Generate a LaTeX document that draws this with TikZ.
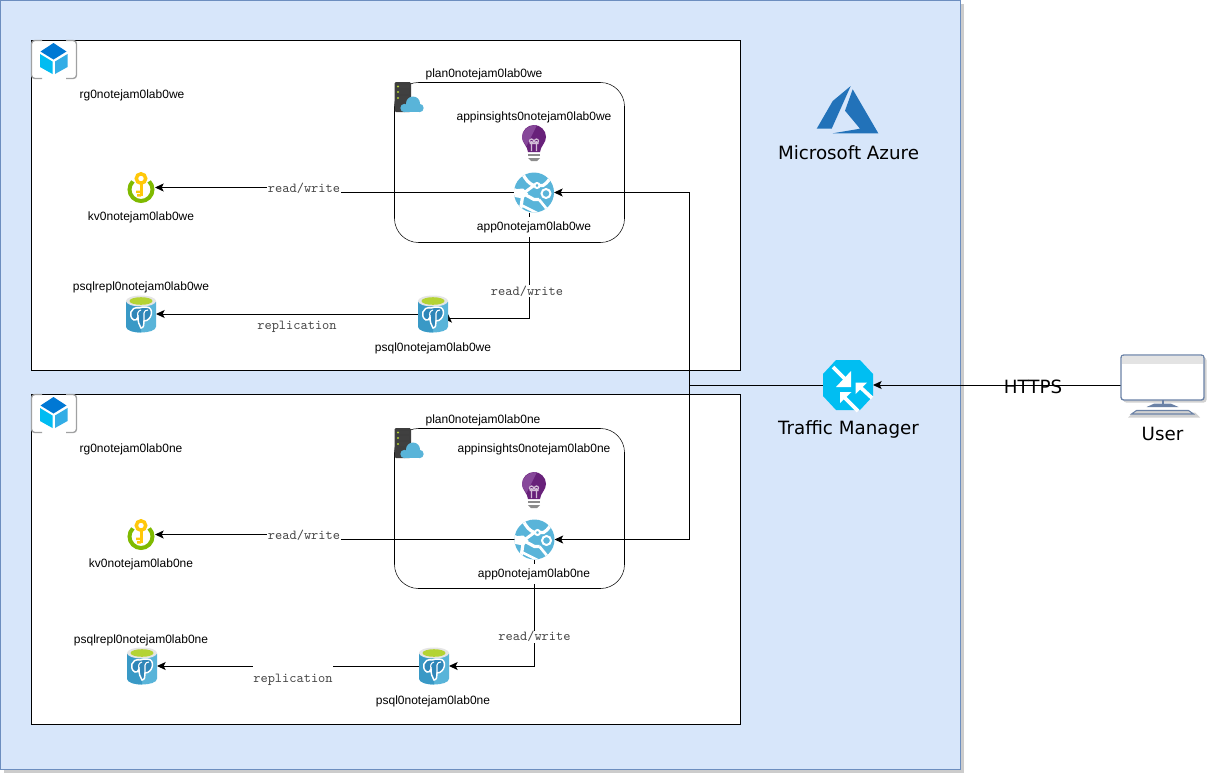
\documentclass[tikz,border=0pt]{standalone}
\usepackage{fontspec}
\setmainfont{Liberation Sans}
\newfontfamily\azurefont{DejaVu Sans}
\usetikzlibrary{arrows.meta,shadows}

\definecolor{azurefill}{HTML}{D7E6FA}
\definecolor{azureedge}{HTML}{6C8EBF}
\definecolor{azurelogo}{HTML}{2272B9}
\definecolor{trafficblue}{HTML}{00BEF2}
\definecolor{cubetop}{HTML}{0078D4}
\definecolor{cubeleft}{HTML}{00BCF2}
\definecolor{cuberight}{HTML}{32ADE6}
\definecolor{framegray}{HTML}{A0A1A2}
\definecolor{svcblue}{HTML}{59B4D9}
\definecolor{svcdark}{HTML}{3999C6}
\definecolor{pgblue}{HTML}{2F86B8}
\definecolor{keygreen}{HTML}{7FBA00}
\definecolor{keyyellow}{HTML}{FFC80A}
\definecolor{bulbdark}{HTML}{68217A}
\definecolor{bulblight}{HTML}{87489A}
\definecolor{rackdark}{HTML}{3E3E3E}
\definecolor{limegreen}{HTML}{B4D334}
\definecolor{screenedge}{HTML}{6B82A6}

\tikzstyle{azurebox} = [rectangle, minimum width=720pt, minimum height=576.75pt, draw=azureedge, fill=azurefill, drop shadow={shadow xshift=3pt, shadow yshift=-3pt, opacity=0.2, fill=black}]
\tikzstyle{rgbox} = [rectangle, minimum width=531.75pt, minimum height=247.5pt, draw=black, fill=white]
\tikzstyle{planbox} = [rectangle, rounded corners=18pt, minimum width=172.5pt, minimum height=120pt, draw=black]
\tikzstyle{iconnode} = [inner sep=0pt, outer sep=0pt]
\tikzstyle{arrow} = [line width=0.75pt,-{Stealth[length=6.5pt,width=6pt,inset=1.5pt]}]
\tikzstyle{textlabel} = [font=\fontsize{9}{10}\selectfont, inner sep=1pt, yshift=-0.75pt]
\tikzstyle{applabel} = [textlabel, fill=white, minimum height=15pt]
\tikzstyle{edgelabel} = [font=\ttfamily\fontsize{10.3}{11}\selectfont, text=black!72, fill=white, inner sep=0.5pt]
\tikzstyle{bigtext} = [font=\azurefont\fontsize{13.7}{16}\selectfont, inner sep=0pt]

\tikzset{
	rgicon/.pic={
		\draw[framegray, line width=1pt, rounded corners=2.5pt] (-12,-19.5) -- (-22.5,-19.5) -- (-22.5,18.5) -- (-12,18.5);
		\draw[framegray, line width=1pt, rounded corners=2.5pt] (12,-19.5) -- (22.5,-19.5) -- (22.5,18.5) -- (12,18.5);
		\fill[cubetop] (-0.5,-17) -- (12.5,-8.5) -- (-0.5,-0.5) -- (-13.5,-8.5) -- cycle;
		\fill[cubeleft] (-14,-6) -- (-1.5,1.5) -- (-1.5,14) -- (-14,7) -- cycle;
		\fill[cuberight] (1,1.5) -- (13.5,-6) -- (13.5,7) -- (1,14) -- cycle;
	},
	planicon/.pic={
		\fill[rackdark, rounded corners=1pt] (-14.5,-15) rectangle (2,15);
		\foreach \y in {-10.5,-5,1}{
			\fill[black!75] (-10,\y-1.8) rectangle (0,\y+1.8);
			\fill[limegreen] (-11,\y) circle (1.2);
		}
		\fill[svcblue] (-4.5,11) circle (4.2) (4,6.5) circle (7) (10.5,11) circle (4.2);
		\fill[svcblue] (-4.5,9) rectangle (10.5,15.2);
	},
	bulbicon/.pic={
		\fill[bulbdark] (-12,-6) arc[start angle=180, end angle=360, radius=12] .. controls (12,0) and (6.5,3) .. (6,9) -- (-6,9) .. controls (-6.5,3) and (-12,0) .. (-12,-6) -- cycle;
		\fill[bulblight] (3,-18) .. controls (-6,-18) and (-12,-12) .. (-12,-6) .. controls (-12,-2) and (-9,0) .. (-7.5,3) -- cycle;
		\draw[white!70!bulbdark, line width=0.9pt] (-2.5,8) -- (-2.5,-2) (2.5,8) -- (2.5,-2) (-2.5,-2) circle (2) (2.5,-2) circle (2) (-4.5,0.5) -- (4.5,0.5);
		\fill[black!45] (-6,10.5) rectangle (6,13);
		\fill[black!45] (-6,15) -- (6,15) -- (3,18) -- (-3,18) -- cycle;
	},
	appicon/.pic={
		\fill[svcblue] (0,0) circle (20);
		\begin{scope}
			\clip (0,0) circle (20);
			\draw[white, line width=2.4pt] (-12,-20) .. controls (-8,-12) and (-5,-9) .. (0,-7);
			\draw[white, line width=2.2pt] (0,-7) -- (-11,1) -- (-22,-4);
			\draw[white, line width=2.4pt] (-11,1) .. controls (-12,8) and (-13,14) .. (-14,22);
			\draw[white, line width=2.4pt] (-11,1) -- (0,7) -- (5,7);
			\draw[white, line width=2.4pt] (0,-7) -- (9,-7) .. controls (14,-10) and (16,-14) .. (17,-17);
			\draw[white, line width=2pt] (5,7) -- (14,18);
			\draw[white, line width=2pt] (-14,12) -- (6,22);
			\fill[white] (-22,-3) -- (-11,-4) -- (-6,1) -- (-11,6) -- (-22,4) -- cycle;
		\end{scope}
		\draw[white, line width=1.5pt, fill=svcblue] (12,1) circle (4.5);
		\draw[white, line width=1.5pt, fill=svcblue] (3,-7) circle (2.5);
	},
	kvicon/.pic={
		\draw[keygreen, line width=3pt] (0,2) ++(-45:11.5) arc[start angle=-45, end angle=225, radius=11.5];
		\fill[keyyellow] (-1.5,-6) rectangle (1.5,8);
		\fill[keyyellow] (-5,3) rectangle (0,5.5) (-4,6.5) rectangle (0,9);
		\draw[keyyellow, line width=2.6pt] (0,-9) circle (4.7);
	},
	psqlicon/.pic={
		\fill[svcblue] (-15,-12.5) -- (-15,12.5) .. controls (-15,20.5) and (15,20.5) .. (15,12.5) -- (15,-12.5) -- cycle;
		\fill[svcdark] (-15,-12.5) -- (-15,12.5) .. controls (-15,16) and (-8,18.5) .. (0,18.5) -- (0,-12.5) -- cycle;
		\fill[white!90!black] (0,-13) ellipse (15 and 5.5);
		\fill[limegreen] (0,-13) ellipse (11.5 and 3.8);
		\draw[white, line width=1.1pt, fill=pgblue] (-2,-6) .. controls (-11,-8) and (-13,3) .. (-7,6) .. controls (-5,7) and (-4,5) .. (-3,3) .. controls (-3,8) and (-2,11) .. (0,14) .. controls (3,14) and (3,10) .. (3,7) .. controls (11,7) and (14,-7) .. (5,-7) .. controls (3,-7) and (0,-7) .. (-2,-6) -- cycle;
		\draw[white, line width=0.8pt] (-3,3) .. controls (-4,-1) and (-3,-3) .. (0,-4) (3,7) -- (3,-1) .. controls (3,-3) and (5,-4) .. (7,-4);
	},
	tmicon/.pic={
		\fill[trafficblue] (-12,-25) -- (12,-25) -- (25,-11) -- (25,11) -- (12,25) -- (-12,25) -- (-25,11) -- (-25,-11) -- cycle;
		\draw[white, line width=2.8pt] (-15,-18) -- (0,-3);
		\fill[white] (3,2) -- (3,-14) -- (-12,2) -- cycle;
		\draw[white, line width=2.8pt] (10,0) -- (24,13);
		\fill[white] (7.5,-2.5) -- (19,-2.5) -- (7.5,9) -- cycle;
		\draw[white, line width=2.8pt] (-6,10) -- (10,26);
		\fill[white] (-8,7) -- (3.5,7) -- (-8,18) -- cycle;
	},
	usericon/.pic={
		\fill[black, opacity=0.18, rounded corners=2pt, shift={(2.5,2.5)}] (-41.5,-30) rectangle (41.5,15);
		\fill[black, opacity=0.18, shift={(1.5,2.5)}] (-31,25) -- (31,25) -- (36,30) -- (-36,30) -- cycle;
		\draw[screenedge, line width=1pt, fill=white, rounded corners=2pt] (-41.5,-30) rectangle (41.5,15);
		\fill[black!11] (-40.5,-29.3) rectangle (40.5,-21.5);
		\fill[screenedge] (-1,15) rectangle (1,18.5);
		\fill[screenedge] (-8,18.5) -- (8,18.5) -- (16,22) -- (-16,22) -- cycle;
		\draw[screenedge, line width=0.8pt, fill=black!18] (-26,25.5) -- (26,25.5) -- (31,29) -- (-31,29) -- cycle;
	}
}

\begin{document}
\begin{tikzpicture}[x=0.75pt, y=-0.75pt]
	\useasboundingbox (0,0) rectangle (1217,782);
	% Place boxes
	\node [azurebox] (azure) at (480,384.5) {};
	\node [rgbox] (rgboxwe) at (386,205.5) {};
	\node [rgbox] (rgboxne) at (386,559.5) {};
	\node [planbox] (planboxwe) at (509.5,162.5) {};
	\node [planbox] (planboxne) at (509.5,508.5) {};
	% Place icon nodes
	\node [iconnode, minimum width=34.5pt, minimum height=29.25pt] (rgwe) at (54,60) {};
	\node [iconnode, minimum width=34.5pt, minimum height=29.25pt] (rgne) at (54,414) {};
	\node [iconnode, minimum width=22pt, minimum height=22.5pt] (planwe) at (409,97) {};
	\node [iconnode, minimum width=22pt, minimum height=22.5pt] (planne) at (409,443) {};
	\node [iconnode, minimum size=27pt] (bulbwe) at (534,143) {};
	\node [iconnode, minimum size=27pt] (bulbne) at (534,490) {};
	\node [iconnode, minimum size=30pt] (appwe) at (534,192.5) {};
	\node [iconnode, minimum size=30pt] (appne) at (534.5,539.5) {};
	\node [iconnode, minimum size=21pt] (kvwe) at (141,187.5) {};
	\node [iconnode, minimum size=21pt] (kvne) at (141,534.5) {};
	\node [iconnode, minimum width=22.5pt, minimum height=27pt] (psqlwe) at (433,314) {};
	\node [iconnode, minimum width=22.5pt, minimum height=27pt] (psqlne) at (434,666) {};
	\node [iconnode, minimum width=22.5pt, minimum height=27pt] (replwe) at (141,314) {};
	\node [iconnode, minimum width=22.5pt, minimum height=27pt] (replne) at (142,666) {};
	\node [iconnode, minimum size=37.5pt] (tmgr) at (848,385) {};
	\node [iconnode, minimum width=62.25pt, minimum height=10pt] (userpc) at (1162.5,385) {};
	\coordinate (bendwe) at (304,189);
	\coordinate (bendne) at (304,536);
	\coordinate (bus) at (689,385);
	% Draw edges
	\draw [arrow] (userpc.west) -- (tmgr.east);
	\draw [arrow] (tmgr.west) -- (bus) |- (appwe.east);
	\draw [arrow] (tmgr.west) -- (bus) |- (appne.east);
	\draw [arrow] (appwe.west) -| (bendwe) |- (kvwe.east);
	\draw [arrow] (appne.west) -| (bendne) |- (kvne.east);
	\draw [arrow] ([xshift=-3.375pt]appwe.south) |- ([yshift=-3.375pt]psqlwe.east) -- (psqlwe.east);
	\draw [arrow] (appne.south) |- (psqlne.east);
	\draw [arrow] (psqlwe.west) -- (replwe.east);
	\draw [arrow] (psqlne.west) -- (replne.east);
	% Draw icons
	\pic at (rgwe) {rgicon};
	\pic at (rgne) {rgicon};
	\pic at (planwe) {planicon};
	\pic at (planne) {planicon};
	\pic at (bulbwe) {bulbicon};
	\pic at (bulbne) {bulbicon};
	\pic at (appwe) {appicon};
	\pic at (appne) {appicon};
	\pic at (kvwe) {kvicon};
	\pic at (kvne) {kvicon};
	\pic at (psqlwe) {psqlicon};
	\pic at (psqlne) {psqlicon};
	\pic at (replwe) {psqlicon};
	\pic at (replne) {psqlicon};
	\pic at (tmgr) {tmicon};
	\pic at (userpc) {usericon};
	\fill [azurelogo] (850.7,86) -- (832.7,101) -- (816.7,128.7) -- (831.7,128.7) -- cycle;
	\fill [azurelogo] (852.7,89.3) -- (878.3,133.3) -- (832.7,133.3) -- (860,128.7) -- (845,110.7) -- cycle;
	% Place labels
	\node [bigtext] (azurelabel) at (848.5,153) {Microsoft Azure};
	\node [bigtext] (tmgrlabel) at (848.5,429.5) {Traffic Manager};
	\node [bigtext] (userlabel) at (1162.5,434) {User};
	\node [bigtext] (httpslabel) at (1033,387) {HTTPS};
	\node [textlabel] (rglabelwe) at (132,94) {rg0notejam0lab0we};
	\node [textlabel] (rglabelne) at (131,448) {rg0notejam0lab0ne};
	\node [textlabel] (planlabelwe) at (484,73) {plan0notejam0lab0we};
	\node [textlabel] (planlabelne) at (483,419) {plan0notejam0lab0ne};
	\node [textlabel] (bulblabelwe) at (534,116) {appinsights0notejam0lab0we};
	\node [textlabel] (bulblabelne) at (534,448) {appinsights0notejam0lab0ne};
	\node [applabel] (applabelwe) at (534,226) {app0notejam0lab0we};
	\node [applabel] (applabelne) at (534,573) {app0notejam0lab0ne};
	\node [textlabel] (kvlabelwe) at (141,216) {kv0notejam0lab0we};
	\node [textlabel] (kvlabelne) at (141,563) {kv0notejam0lab0ne};
	\node [textlabel] (psqllabelwe) at (433,347) {psql0notejam0lab0we};
	\node [textlabel] (psqllabelne) at (433,700) {psql0notejam0lab0ne};
	\node [textlabel] (repllabelwe) at (141,286) {psqlrepl0notejam0lab0we};
	\node [textlabel] (repllabelne) at (141,639) {psqlrepl0notejam0lab0ne};
	\node [edgelabel] (rwkvwe) at (304,188.5) {read/write};
	\node [edgelabel] (rwkvne) at (304,535.5) {read/write};
	\node [edgelabel] (rwpsqlwe) at (527,291) {read/write};
	\node [edgelabel] (rwpsqlne) at (534.5,636.5) {read/write};
	\node [edgelabel] (replabelwe) at (297,326.5) {replication};
	\node [edgelabel, minimum width=59pt, minimum height=25pt] (replabelne) at (293,680) {replication};
\end{tikzpicture}
\end{document}
